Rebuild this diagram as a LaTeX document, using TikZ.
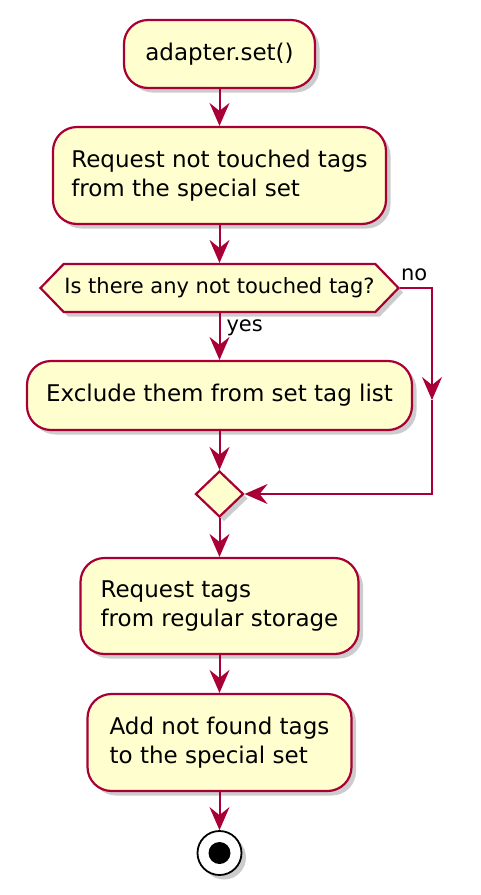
\documentclass[tikz,border=0pt]{standalone}
\usepackage{fontspec}
\setmainfont{DejaVu Sans}
\usetikzlibrary{positioning,calc}
\usetikzlibrary{arrows.meta,shapes.geometric,shapes.symbols,shadows}
\definecolor{UmlRed}{HTML}{A80036}
\definecolor{UmlYellow}{HTML}{FEFECE}
\tikzset{
  castshadow/.style={drop shadow={shadow xshift=4.5pt,shadow yshift=-4.5pt,opacity=0.4}},
  act/.style={draw=UmlRed,fill=UmlYellow,line width=2.2pt,rounded corners=24pt,inner sep=0pt,
    align=left,font=\fontsize{23}{29}\selectfont,castshadow},
  cond/.style={signal,signal to=west and east,signal pointer angle=92,draw=UmlRed,fill=UmlYellow,
    line width=2.2pt,minimum width=358pt,minimum height=48pt,inner sep=0pt,font=\fontsize{21}{24}\selectfont,castshadow},
}
\tikzset{mergebox/.style={diamond,draw=UmlRed,fill=UmlYellow,line width=2.2pt,minimum width=48pt,minimum height=46pt,inner sep=0pt,castshadow},
  stopnode/.style={circle,draw=black,fill=white,line width=1.8pt,minimum size=44pt,inner sep=0pt,castshadow},
  stopdot/.style={circle,fill=black,minimum size=22pt,inner sep=0pt},
  flow/.style={draw=UmlRed,line width=2pt,-{Stealth[length=23pt,width=20pt,inset=8pt]}},
  lbl/.style={font=\fontsize{21}{24}\selectfont,inner sep=0pt}}

\begin{document}
\begin{tikzpicture}[x=1pt,y=-1pt]
\useasboundingbox (0,0) rectangle (481,895);
\node[act,minimum width=191pt,minimum height=68pt] (start) at (219.5,54) {adapter.set()};
\node[act,minimum width=333pt,minimum height=97pt] (askspecial) at (219.5,175.5) {Request not touched tags\\from the special set};
\node[cond] (anyleft) at (219.5,288) {Is there any not touched tag?};
\node[act,minimum width=385pt,minimum height=69pt] (exclude) at (219.5,395.5) {Exclude them from set tag list};
\node[mergebox] (merge) at (219.5,494) {};
\node[act,minimum width=278pt,minimum height=96pt] (askregular) at (219.5,606) {Request tags\\from regular storage};
\node[act,minimum width=264pt,minimum height=97pt] (addfound) at (219.5,742.5) {Add not found tags\\to the special set};
\node[stopnode] (stop) at (219.5,853) {};
\node[stopdot] (stopdot) at (stop) {};
\coordinate (nocorner) at (432,288);
\coordinate (nomid) at (432,400);
\coordinate (nobottom) at (432,494);
\draw[flow] (start.south) -- (askspecial.north);
\draw[flow] (askspecial.south) -- (anyleft.north);
\draw[flow] (anyleft.south) -- node[lbl,pos=0,anchor=north west,xshift=6pt,yshift=-6pt] {yes} (exclude.north);
\draw[flow] (anyleft.east) -- node[lbl,pos=0,anchor=base west,yshift=8pt] {no} (nocorner) -- (nomid);
\draw[flow] (nomid) -- (nobottom) -- (merge.east);
\draw[flow] (exclude.south) -- (merge.north);
\draw[flow] (merge.south) -- (askregular.north);
\draw[flow] (askregular.south) -- (addfound.north);
\draw[flow] (addfound.south) -- (stop.north);
\end{tikzpicture}
\end{document}
